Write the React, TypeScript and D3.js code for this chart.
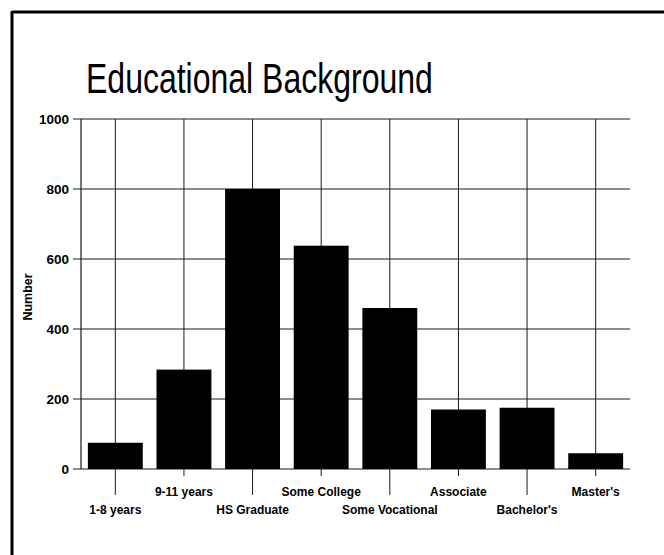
import React from "react";
import * as d3 from "d3";

const categories = [
  "1-8 years",
  "9-11 years",
  "HS Graduate",
  "Some College",
  "Some Vocational",
  "Associate",
  "Bachelor's",
  "Master's",
];
const counts = [75, 284, 800, 638, 460, 170, 175, 45];
const yTicks = [0, 200, 400, 600, 800, 1000];

const W = 664;
const H = 555;
const margin = { left: 81, right: 34, top: 119, bottom: 86 };

export default function App() {
  const x = d3
    .scaleBand<string>()
    .domain(categories)
    .range([margin.left, W - margin.right])
    .paddingInner(0.2)
    .paddingOuter(0.1);
  const y = d3.scaleLinear().domain([0, 1000]).range([H - margin.bottom, margin.top]);
  const x0 = margin.left;
  const x1 = W - margin.right;
  const font = "'Liberation Sans', Arial, Helvetica, sans-serif";
  const grid = "#1a1a1a";

  return (
    <svg
      width={W}
      height={H}
      style={{ position: "absolute", left: 0, top: 0, background: "#fff" }}
      fontFamily={font}
    >
      <rect width={W} height={H} fill="#fff" />
      {/* frame edges */}
      <line x1={12} y1={12} x2={W} y2={12} stroke="#000" strokeWidth={3} />
      <line x1={12} y1={11} x2={12} y2={H} stroke="#000" strokeWidth={3} />

      {/* tall title type */}
      <text transform="translate(86, 93) scale(1, 1.3)" fontSize={32} fill="#000">
        Educational Background
      </text>

      {/* horizontal grid and y ticks */}
      {yTicks.map((t) => (
        <g key={t}>
          <line x1={x0 - 8} x2={x1} y1={y(t)} y2={y(t)} stroke={grid} strokeWidth={1.2} />
          <text
            x={69}
            y={y(t)}
            dy="0.35em"
            textAnchor="end"
            fontSize={13.5}
            fontWeight="bold"
          >
            {t}
          </text>
        </g>
      ))}
      <line x1={x0} x2={x0} y1={y(1000)} y2={y(0)} stroke={grid} strokeWidth={1.2} />

      {/* vertical grid at category centres with ticks toward labels */}
      {categories.map((c, i) => {
        const cx = (x(c) as number) + x.bandwidth() / 2;
        return (
          <line
            key={c}
            x1={cx}
            x2={cx}
            y1={y(1000)}
            y2={y(0) + (i % 2 === 0 ? 26 : 7)}
            stroke={grid}
            strokeWidth={1}
          />
        );
      })}

      {/* bars */}
      {categories.map((c, i) => (
        <rect
          key={c}
          x={x(c)}
          y={y(counts[i])}
          width={x.bandwidth()}
          height={y(0) - y(counts[i])}
          fill="#000"
        />
      ))}

      {/* category labels, staggered */}
      {categories.map((c, i) => {
        const cx = (x(c) as number) + x.bandwidth() / 2;
        return (
          <text
            key={c}
            x={cx}
            y={i % 2 === 0 ? 514 : 496}
            textAnchor="middle"
            fontSize={12}
            fontWeight="bold"
          >
            {c}
          </text>
        );
      })}

      <text
        transform={`translate(32, ${(y(0) + y(1000)) / 2 + 3}) rotate(-90)`}
        textAnchor="middle"
        fontSize={12.5}
        fontWeight="bold"
      >
        Number
      </text>
    </svg>
  );
}
